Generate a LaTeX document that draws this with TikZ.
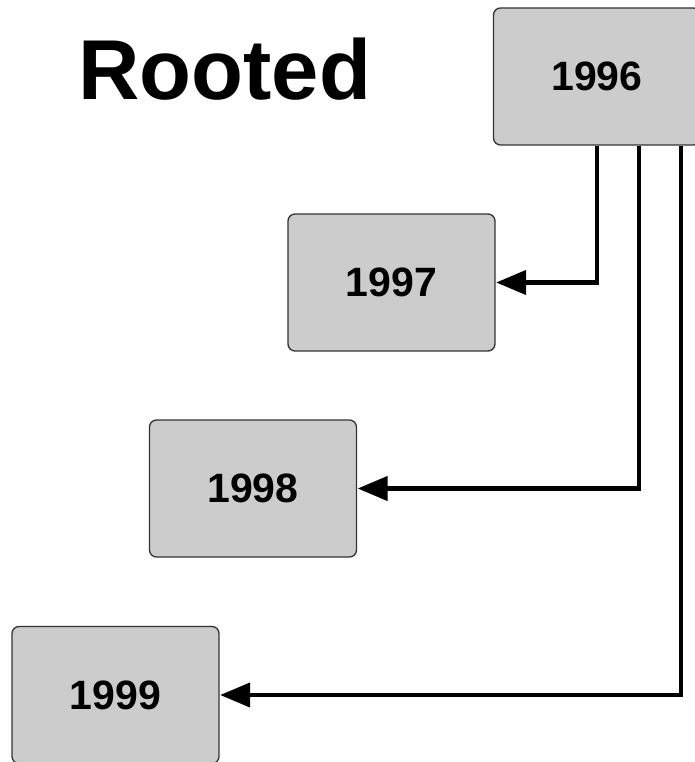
\documentclass[tikz,border=0pt]{standalone}
\usepackage{fontspec}
\setmainfont{Liberation Sans}
\usetikzlibrary{arrows.meta}
\definecolor{boxfill}{HTML}{CCCCCC}
\definecolor{boxline}{HTML}{333333}
\tikzset{
  yearbox/.style={draw=boxline, fill=boxfill, line width=1.3pt, rounded corners=7pt,
    minimum width=207pt, minimum height=137pt, inner sep=0pt,
    font=\fontsize{41}{41}\selectfont\bfseries},
  link/.style={line width=4.3pt, -{Triangle[length=30pt,width=24pt]}, shorten >=0.5pt}
}
\begin{document}
\begin{tikzpicture}[x=1pt,y=-1pt]
\useasboundingbox (0,0) rectangle (695,762);
\begin{scope}
\clip (0,0) rectangle (695,762);
\node[anchor=base west, inner sep=0pt, font=\fontsize{85}{85}\selectfont\bfseries] (title) at (78,100) {Rooted};
\node[yearbox] (y96) at (597,76.5) {1996};
\node[yearbox] (y97) at (391.5,282.5) {1997};
\node[yearbox] (y98) at (253,488.5) {1998};
\node[yearbox] (y99) at (115.5,695) {1999};
\draw[link] (y96.south -| 597,0) |- (y97.east);
\draw[link] (y96.south -| 639,0) |- (y98.east);
\draw[link] (y96.south -| 681,0) |- (y99.east);
\end{scope}
\end{tikzpicture}
\end{document}
